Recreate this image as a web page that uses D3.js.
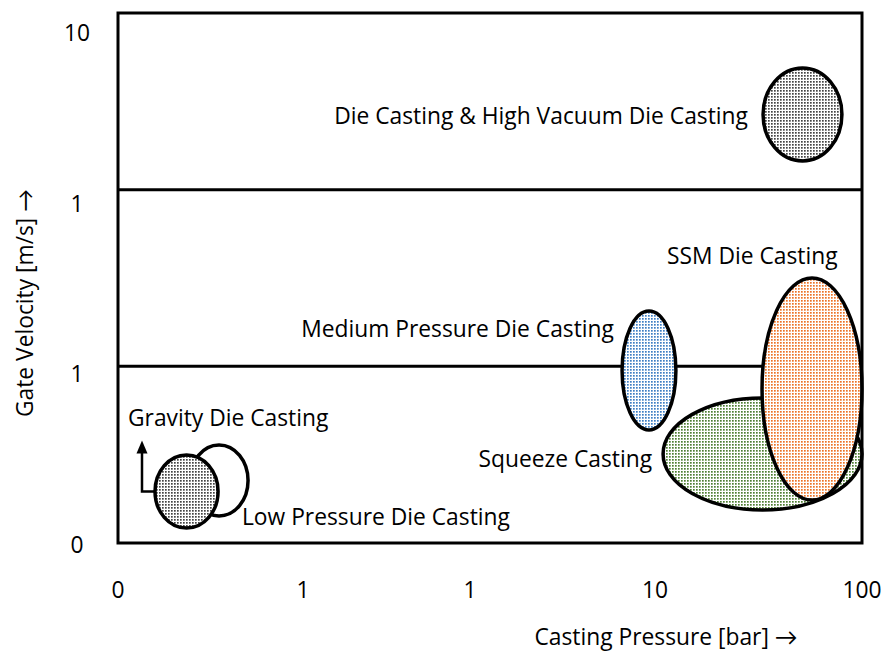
<!DOCTYPE html>
<html><head><meta charset="utf-8">
<script src="https://cdn.jsdelivr.net/npm/d3@7"></script>
<style>body{margin:0;background:#fff}svg{display:block}text{font-family:"Open Sans",Lato,sans-serif;fill:#000}</style>
</head><body><div id="chart"></div>
<script>
// ---- data ----
const xTickLabels = ["0", "1", "1", "10", "100"];
const yTickLabels = ["0", "1", "1", "10"];
// process windows: extents in axis units (x: tick index, y: tick index)
const processes = ["Low Pressure Die Casting", "Gravity Die Casting", "Medium Pressure Die Casting", "Squeeze Casting", "SSM Die Casting", "Die Casting & High Vacuum Die Casting"];
const pressureMin = [0.389, 0.200, 2.822, 3.039, 3.517, 3.522];
const pressureMax = [0.703, 0.541, 3.101, 4.000, 4.000, 3.903];
const velocityMin = [0.153, 0.085, 0.640, 0.187, 0.243, 2.162];
const velocityMax = [0.555, 0.498, 1.313, 0.821, 1.500, 2.689];
const fills = ["none", "grey", "blue", "green", "orange", "grey"];
// labels (axis units)
const labelX = [0.670, 0.054, 2.778, 2.984, 3.058, 3.449];
const labelY = [0.147, 0.708, 1.211, 0.475, 1.624, 2.417];
const labelAnchor = ["start", "start", "end", "end", "start", "end"];
const bandLines = [1, 2];

// ---- layout ----
const W = 889, H = 653;
const FS = 22.8;
const svg = d3.select("#chart").append("svg").attr("width", W).attr("height", H);
const x = d3.scaleLinear().domain([0, 1, 2, 3, 4]).range([118, 303, 470, 655, 862]);
const y = d3.scaleLinear().domain([0, 3]).range([543, 13]);
const yLab = d3.scaleLinear().domain([0, 3]).range([545, 33]);

const colors = {grey: "#454545", blue: "#3f7fc4", green: "#4f7f33", orange: "#ec7428"};
const defs = svg.append("defs");
Object.entries(colors).forEach(([k, c]) => {
  const p = defs.append("pattern").attr("id", "pat-" + k).attr("patternUnits", "userSpaceOnUse")
    .attr("width", 3).attr("height", 3);
  p.append("rect").attr("width", 3).attr("height", 3).attr("fill", "#fff");
  p.append("rect").attr("x", 0).attr("y", 0).attr("width", 1.7).attr("height", 1.7).attr("fill", c);
});

// band lines
svg.selectAll("line.band").data(bandLines).join("line").attr("class", "band")
  .attr("x1", x(0)).attr("x2", x(4)).attr("y1", d => y(d)).attr("y2", d => y(d))
  .attr("stroke", "#000").attr("stroke-width", 3);

// ellipses
const idx = d3.range(processes.length);
svg.selectAll("ellipse.proc").data(idx).join("ellipse").attr("class", "proc")
  .attr("cx", i => (x(pressureMin[i]) + x(pressureMax[i])) / 2)
  .attr("cy", i => (y(velocityMin[i]) + y(velocityMax[i])) / 2)
  .attr("rx", i => (x(pressureMax[i]) - x(pressureMin[i])) / 2)
  .attr("ry", i => (y(velocityMin[i]) - y(velocityMax[i])) / 2)
  .attr("fill", i => fills[i] === "none" ? "#fff" : `url(#pat-${fills[i]})`)
  .attr("stroke", "#000").attr("stroke-width", 3.5);

// gravity arrow
const gi = 1;
const gx = x(pressureMin[gi]), gy = (y(velocityMin[gi]) + y(velocityMax[gi])) / 2;
svg.append("path").attr("d", `M${gx},${gy}H${gx - 13}V${gy - 40}`)
  .attr("fill", "none").attr("stroke", "#000").attr("stroke-width", 2.5);
svg.append("path").attr("d", `M${gx - 13 - 5.5},${gy - 38}L${gx - 13},${gy - 51}L${gx - 13 + 5.5},${gy - 38}Z`)
  .attr("fill", "#000");

// frame
svg.append("rect").attr("x", x(0)).attr("y", y(3)).attr("width", x(4) - x(0)).attr("height", y(0) - y(3))
  .attr("fill", "none").attr("stroke", "#000").attr("stroke-width", 3);

// labels
svg.selectAll("text.lab").data(idx).join("text").attr("class", "lab")
  .attr("x", i => x(labelX[i])).attr("y", i => y(labelY[i])).attr("dy", "0.35em")
  .attr("text-anchor", i => labelAnchor[i]).attr("font-size", FS).text(i => processes[i]);

// tick labels
svg.selectAll("text.xt").data(xTickLabels).join("text").attr("class", "xt")
  .attr("x", (d, i) => x(i)).attr("y", 590).attr("dy", "0.35em").attr("text-anchor", "middle")
  .attr("font-size", FS).text(d => d);
svg.selectAll("text.yt").data(yTickLabels).join("text").attr("class", "yt")
  .attr("x", 77).attr("y", (d, i) => yLab(i)).attr("dy", "0.35em").attr("text-anchor", "middle")
  .attr("font-size", FS).text(d => d);

// axis titles
svg.append("text").attr("x", 666).attr("y", 637).attr("dy", "0.35em").attr("text-anchor", "middle")
  .attr("font-size", FS).text("Casting Pressure [bar] \u2192");
svg.append("text").attr("transform", "translate(25,303) rotate(-90)").attr("dy", "0.35em")
  .attr("text-anchor", "middle").attr("font-size", FS).text("Gate Velocity [m/s] \u2192");
</script></body></html>
